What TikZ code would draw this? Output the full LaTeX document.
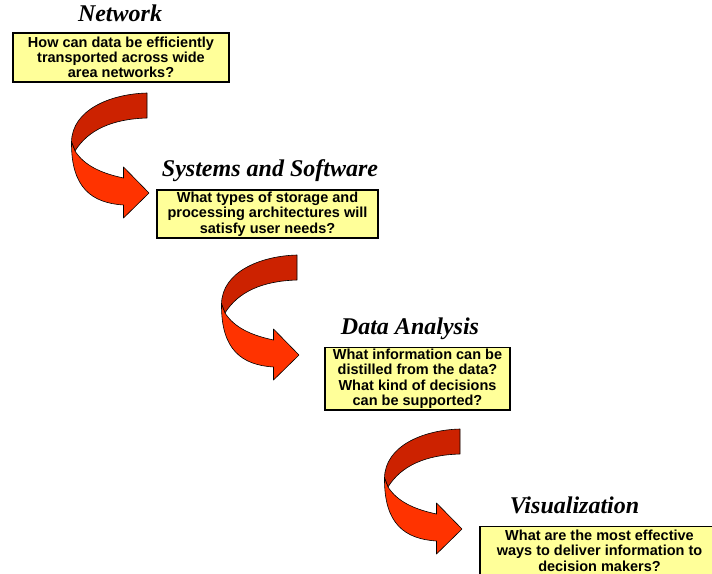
\documentclass[tikz,border=0pt]{standalone}
\usepackage{fontspec}
\newfontfamily\askfont{Liberation Sans}
\newfontfamily\headfont{Liberation Serif}
\usepackage{tikz}
\definecolor{ink}{RGB}{0,0,0}
\definecolor{note}{RGB}{255,255,153}
\definecolor{ribbonback}{RGB}{204,34,0}
\definecolor{ribbonfront}{RGB}{255,51,0}
\tikzset{
  every picture/.style={color=ink, line width=0.6pt},
  ask/.style={draw=ink, fill=note, line width=1.2pt, inner sep=0pt, align=center,
    font=\askfont\bfseries\fontsize{14.5}{15.3}\selectfont},
  stage/.style={anchor=base, inner sep=0pt, font=\headfont\bfseries\itshape\fontsize{24}{26}\selectfont},
  back/.style={draw=ink, fill=ribbonback, line join=round},
  front/.style={draw=ink, fill=ribbonfront, line join=round},
  turn/.pic={
    \path[back] (0,0) .. controls (-37,1) and (-75,17) .. (-75.5,49)
      -- (-72,58) .. controls (-59,37) and (-35,26) .. (0,25) -- cycle;
    \path[front] (-75.5,49) .. controls (-76,95) and (-55,110) .. (-23.5,112)
      -- (-23.5,125) -- (2,100) -- (-23.5,74) -- (-23.5,85)
      .. controls (-47,80) and (-63,72) .. (-72,58) -- cycle;
  },
}

\begin{document}
\begin{tikzpicture}[x=1pt, y=-1pt]
  % pixel grid of the slide, y running down
  \useasboundingbox (0,0) rectangle (712,573);
  \node[stage] (network)  at (120,21.7)  {Network};
  \node[stage] (systems)  at (270,176.7) {Systems and Software};
  \node[stage] (analysis) at (410,334)   {Data Analysis};
  \node[stage] (visual)   at (574.5,513) {Visualization};
  \node[ask, minimum width=216pt, minimum height=49pt] (askA) at (121,57.5)
    {How can data be efficiently\\transported across wide\\area networks?};
  \node[ask, minimum width=221pt, minimum height=48pt] (askB) at (267.5,214)
    {What types of storage and\\processing architectures will\\satisfy user needs?};
  \node[ask, minimum width=185pt, minimum height=62.5pt] (askC) at (417.5,378.75)
    {What information can be\\distilled from the data?\\What kind of decisions\\can be supported?};
  \node[ask, minimum width=239pt, minimum height=48.5pt] (askD) at (599.5,550.75)
    {What are the most effective\\ways to deliver information to\\decision makers?};
  \pic (turnA) at (147,93)  {turn};
  \pic (turnB) at (297,255) {turn};
  \pic (turnC) at (460,429) {turn};
\end{tikzpicture}
\end{document}
